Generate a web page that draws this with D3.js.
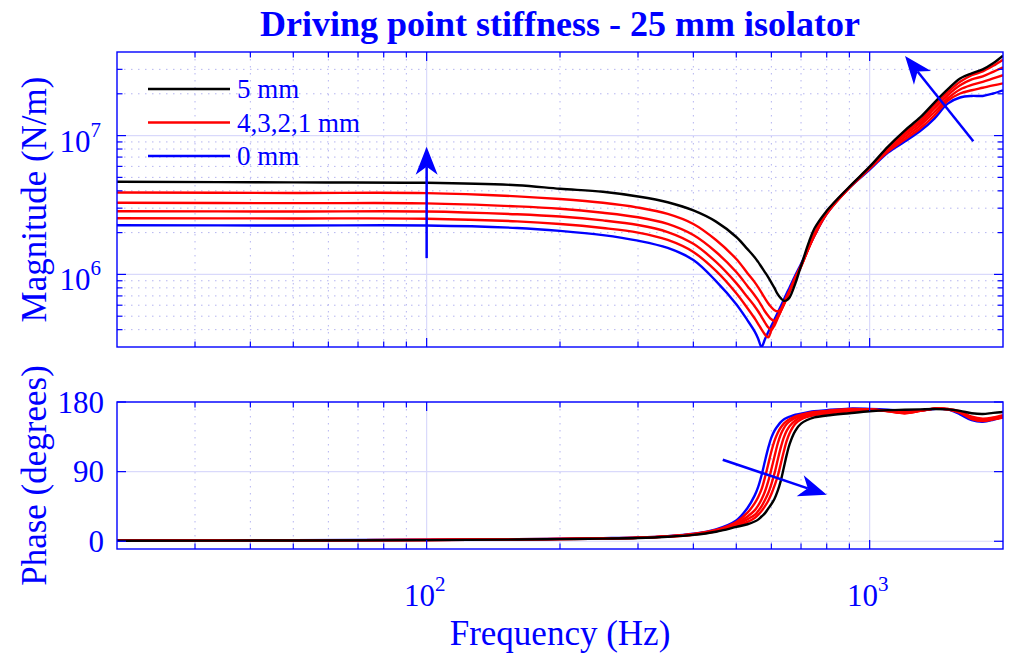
<!DOCTYPE html>
<html>
<head>
<meta charset="utf-8">
<script src="https://cdn.jsdelivr.net/npm/d3@7"></script>
<style>
  html, body { margin: 0; padding: 0; background: #ffffff; }
  svg { display: block; font-family: "Liberation Serif", "Times New Roman", Times, serif; }
</style>
</head>
<body>
<svg id="chart" width="1009" height="657"></svg>
<script>
// ---- data -------------------------------------------------------------
// frequency grid (Hz)
const freq = [20, 50, 100, 160, 200, 250, 300, 350, 400, 450,
              500, 530, 550, 560, 570, 580, 590, 600, 610, 620,
              630, 640, 650, 660, 680, 700, 750, 800, 900, 1000,
              1100, 1200, 1300, 1400, 1500, 1600, 1700, 1800, 1900, 2000];

// driving point stiffness magnitude (N/m) for each isolator setting
const mag0mm = [2.26e6, 2.25e6, 2.25e6, 2.16e6, 2.06e6, 1.92e6, 1.75e6, 1.55e6, 1.27e6, 8.95e5,
                6.10e5, 4.67e5, 3.89e5, 3.46e5, 3.00e5, 3.40e5, 3.83e5, 4.26e5, 4.75e5, 5.29e5,
                5.90e5, 6.57e5, 7.32e5, 8.09e5, 9.88e5, 1.19e6, 1.89e6, 2.73e6, 4.21e6, 5.68e6,
                7.54e6, 9.05e6, 1.078e7, 1.327e7, 1.70e7, 1.88e7, 1.93e7, 1.93e7, 2.01e7, 2.12e7];
const mag1mm = [2.54e6, 2.53e6, 2.52e6, 2.41e6, 2.31e6, 2.16e6, 2.00e6, 1.77e6, 1.45e6, 1.06e6,
                7.32e5, 5.71e5, 4.83e5, 4.41e5, 4.02e5, 3.70e5, 3.52e5, 3.96e5, 4.44e5, 4.95e5,
                5.52e5, 6.20e5, 6.97e5, 7.70e5, 9.56e5, 1.16e6, 1.89e6, 2.73e6, 4.21e6, 5.77e6,
                7.66e6, 9.36e6, 1.124e7, 1.395e7, 1.78e7, 2.01e7, 2.12e7, 2.21e7, 2.30e7, 2.38e7];
const mag2mm = [2.85e6, 2.84e6, 2.84e6, 2.71e6, 2.61e6, 2.45e6, 2.27e6, 2.02e6, 1.66e6, 1.23e6,
                8.65e5, 6.85e5, 5.90e5, 5.43e5, 4.95e5, 4.52e5, 4.16e5, 3.99e5, 4.30e5, 4.83e5,
                5.43e5, 6.10e5, 6.85e5, 7.64e5, 9.48e5, 1.15e6, 1.91e6, 2.75e6, 4.21e6, 5.82e6,
                7.86e6, 9.75e6, 1.181e7, 1.479e7, 1.85e7, 2.15e7, 2.32e7, 2.44e7, 2.58e7, 2.72e7];
const mag3mm = [3.28e6, 3.26e6, 3.25e6, 3.09e6, 2.97e6, 2.78e6, 2.58e6, 2.31e6, 1.92e6, 1.45e6,
                1.04e6, 8.23e5, 7.08e5, 6.52e5, 5.95e5, 5.43e5, 5.04e5, 4.75e5, 4.63e5, 4.95e5,
                5.43e5, 6.05e5, 6.80e5, 7.57e5, 9.40e5, 1.14e6, 1.92e6, 2.78e6, 4.24e6, 5.87e6,
                7.99e6, 1.017e7, 1.231e7, 1.567e7, 1.95e7, 2.30e7, 2.54e7, 2.67e7, 2.88e7, 3.10e7];
const mag4mm = [3.89e6, 3.86e6, 3.85e6, 3.65e6, 3.49e6, 3.28e6, 3.03e6, 2.73e6, 2.31e6, 1.77e6,
                1.29e6, 1.02e6, 8.80e5, 8.09e5, 7.39e5, 6.74e5, 6.20e5, 5.80e5, 5.52e5, 5.43e5,
                5.61e5, 6.05e5, 6.80e5, 7.57e5, 9.40e5, 1.14e6, 1.96e6, 2.82e6, 4.24e6, 5.92e6,
                8.19e6, 1.051e7, 1.284e7, 1.648e7, 2.05e7, 2.44e7, 2.72e7, 2.90e7, 3.18e7, 3.52e7];
const mag5mm = [4.65e6, 4.60e6, 4.57e6, 4.39e6, 4.14e6, 3.94e6, 3.64e6, 3.31e6, 2.89e6, 2.40e6,
                1.86e6, 1.52e6, 1.33e6, 1.23e6, 1.13e6, 1.04e6, 9.56e5, 8.72e5, 7.96e5, 7.20e5,
                6.74e5, 6.46e5, 6.52e5, 6.85e5, 8.65e5, 1.15e6, 2.13e6, 2.87e6, 4.28e6, 5.97e6,
                8.33e6, 1.087e7, 1.35e7, 1.73e7, 2.15e7, 2.58e7, 2.81e7, 3.00e7, 3.32e7, 3.76e7];

// phase (degrees)
const phase0mm = [0.9, 1.3, 1.9, 2.7, 3.2, 4.0, 4.9, 6.6, 9.7, 15.5,
                  27, 43, 59, 70, 85, 103, 120, 134, 143, 149,
                  154, 157.5, 159.5, 161, 163.5, 165, 168, 169.5, 171.5, 171,
                  170, 168.5, 169, 171, 170.5, 164, 156.5, 154.5, 157, 161];
const phase1mm = [0.8, 1.2, 1.8, 2.6, 3.1, 3.8, 4.7, 6.4, 9.4, 14.8,
                  25, 37, 49, 57, 67, 82, 99, 116, 130, 140,
                  147, 152, 155.5, 158, 161.5, 163.5, 167, 168.5, 171, 170.5,
                  168, 165.5, 168.5, 171.5, 170.5, 166, 158, 155.5, 157.5, 160];
const phase2mm = [0.8, 1.2, 1.7, 2.5, 3.0, 3.7, 4.6, 6.3, 9.1, 14.2,
                  23, 32, 40, 46, 54, 64, 77, 93, 110, 126,
                  138, 146, 151.5, 155, 159.5, 162, 166, 167.5, 170, 170.5,
                  168, 165.5, 168.5, 171.5, 170.5, 166.5, 158.5, 156, 158, 160.5];
const phase3mm = [0.7, 1.1, 1.7, 2.4, 2.9, 3.6, 4.5, 6.1, 8.8, 13.5,
                  21.5, 28.5, 34, 39, 45, 53, 62, 74, 88, 105,
                  121, 134, 143, 149, 156, 160, 165, 166.5, 169, 170.5,
                  168.5, 166, 168.5, 171.5, 171, 167, 159.5, 157, 158.5, 161.5];
const phase4mm = [0.7, 1.1, 1.6, 2.3, 2.8, 3.5, 4.4, 6.0, 8.5, 12.9,
                  20, 25, 30, 34, 39, 45, 52, 61, 72, 84,
                  100, 116, 130, 140, 152, 157.5, 163, 165, 168, 170,
                  169, 167, 169, 171.5, 171, 168, 161, 158.5, 160, 163];
const phase5mm = [0.6, 1.0, 1.5, 2.2, 2.7, 3.4, 4.2, 5.8, 8.2, 12.3,
                  18.5, 22, 25.5, 28, 32, 36, 42, 48, 55, 65,
                  78, 95, 112, 126, 143, 152, 160, 162.5, 165.5, 168,
                  169.5, 170, 170.5, 171, 170.5, 168.5, 165.5, 164.5, 166, 167];

const legendLabels = ["5 mm", "4,3,2,1 mm", "0 mm"];
const xTickExponents = [2, 3];        // 10^2, 10^3 Hz
const magTickExponents = [6, 7];      // 10^6, 10^7 N/m
const phaseTicks = [0, 90, 180];

// direction arrows: [frequency, value] pairs
const magArrows = [
  { from: [100, 1.31e6], to: [100, 8.3e6] },
  { from: [1714, 9.1e6], to: [1202, 3.745e7] }
];
const phaseArrows = [
  { from: [466, 105.4], to: [800, 60.2] }
];

// ---- layout & styles --------------------------------------------------
const BLUE = "#0000ff", RED = "#ff0000", BLACK = "#000000";
const GRID_MAJOR = "#d9d9fb", GRID_MINOR = "#b4b4f0";
const X0 = 117, X1 = 1003;
const magBox = { top: 52, bottom: 347 };
const phBox = { top: 402, bottom: 549 };
const TICK_MAJOR = 9, TICK_MINOR = 5.5;
const LINE_W = 2.4;

const svg = d3.select("#chart");
const x = d3.scaleLog().domain([20, 2000]).range([X0, X1]);
const yMag = d3.scaleLog().domain([3e5, 4e7]).range([magBox.bottom, magBox.top]);
const yPh = d3.scaleLinear().domain([-10, 180]).range([phBox.bottom, phBox.top]);

const isPow10 = v => Math.abs(Math.log10(v) - Math.round(Math.log10(v))) < 1e-9;
const xAll = x.ticks().filter(v => v > 20 && v < 2000);
const xMajor = xAll.filter(isPow10);
const xMinor = xAll.filter(v => !isPow10(v));
const magAll = yMag.ticks().filter(v => v > 3e5 && v < 4e7);
const magMajor = magAll.filter(isPow10);
const magMinor = magAll.filter(v => !isPow10(v));

const defs = svg.append("defs");
defs.append("clipPath").attr("id", "clipMag").append("rect")
  .attr("x", X0).attr("y", magBox.top).attr("width", X1 - X0).attr("height", magBox.bottom - magBox.top);
defs.append("clipPath").attr("id", "clipPh").append("rect")
  .attr("x", X0).attr("y", phBox.top).attr("width", X1 - X0).attr("height", phBox.bottom - phBox.top);

function drawGrid(box, yScale, yMajorVals, yMinorVals) {
  const g = svg.append("g");
  // minor (dotted)
  g.selectAll(".vmin").data(xMinor).join("line")
    .attr("x1", d => x(d)).attr("x2", d => x(d)).attr("y1", box.top).attr("y2", box.bottom)
    .attr("stroke", GRID_MINOR).attr("stroke-width", 1).attr("stroke-dasharray", "1.5,5.5");
  g.selectAll(".hmin").data(yMinorVals).join("line")
    .attr("x1", X0).attr("x2", X1).attr("y1", d => yScale(d)).attr("y2", d => yScale(d))
    .attr("stroke", GRID_MINOR).attr("stroke-width", 1).attr("stroke-dasharray", "1.5,5.5");
  // major (solid)
  g.selectAll(".vmaj").data(xMajor).join("line")
    .attr("x1", d => x(d)).attr("x2", d => x(d)).attr("y1", box.top).attr("y2", box.bottom)
    .attr("stroke", GRID_MAJOR).attr("stroke-width", 1.2);
  g.selectAll(".hmaj").data(yMajorVals).join("line")
    .attr("x1", X0).attr("x2", X1).attr("y1", d => yScale(d)).attr("y2", d => yScale(d))
    .attr("stroke", GRID_MAJOR).attr("stroke-width", 1.2);
}

function drawFrame(box, yScale, yMajorVals, yMinorVals) {
  const g = svg.append("g").attr("stroke", BLUE).attr("fill", "none");
  // x ticks on bottom and top edges, pointing inward
  [[xMajor, TICK_MAJOR], [xMinor, TICK_MINOR]].forEach(([vals, len]) => {
    vals.forEach(v => {
      g.append("line").attr("x1", x(v)).attr("x2", x(v))
        .attr("y1", box.bottom).attr("y2", box.bottom - len).attr("stroke-width", 1.2);
      g.append("line").attr("x1", x(v)).attr("x2", x(v))
        .attr("y1", box.top).attr("y2", box.top + len).attr("stroke-width", 1.2);
    });
  });
  // y ticks on left and right edges
  [[yMajorVals, TICK_MAJOR], [yMinorVals, TICK_MINOR]].forEach(([vals, len]) => {
    vals.forEach(v => {
      g.append("line").attr("x1", X0).attr("x2", X0 + len)
        .attr("y1", yScale(v)).attr("y2", yScale(v)).attr("stroke-width", 1.2);
      g.append("line").attr("x1", X1).attr("x2", X1 - len)
        .attr("y1", yScale(v)).attr("y2", yScale(v)).attr("stroke-width", 1.2);
    });
  });
  g.append("rect").attr("x", X0).attr("y", box.top)
    .attr("width", X1 - X0).attr("height", box.bottom - box.top)
    .attr("stroke-width", 1.4);
}

function drawArrow(g, x1, y1, x2, y2) {
  const ang = Math.atan2(y2 - y1, x2 - x1);
  const len = 28, half = 11, notch = 20;
  const ux = Math.cos(ang), uy = Math.sin(ang);
  const px = -uy, py = ux;
  const bx = x2 - ux * len, by = y2 - uy * len;
  const nx = x2 - ux * notch, ny = y2 - uy * notch;
  g.append("line").attr("x1", x1).attr("y1", y1).attr("x2", nx).attr("y2", ny)
    .attr("stroke", BLUE).attr("stroke-width", 2.5);
  g.append("path")
    .attr("d", `M${x2},${y2} L${bx + px * half},${by + py * half} L${nx},${ny} L${bx - px * half},${by - py * half} Z`)
    .attr("fill", BLUE);
}

// ---- magnitude panel --------------------------------------------------
drawGrid(magBox, yMag, magMajor, magMinor);

const seriesStyle = [
  { mag: mag0mm, phase: phase0mm, color: BLUE },
  { mag: mag1mm, phase: phase1mm, color: RED },
  { mag: mag2mm, phase: phase2mm, color: RED },
  { mag: mag3mm, phase: phase3mm, color: RED },
  { mag: mag4mm, phase: phase4mm, color: RED },
  { mag: mag5mm, phase: phase5mm, color: BLACK }
];

const smooth = d3.curveCatmullRom.alpha(0.5);
const magLine = d3.line().x((d, i) => x(freq[i])).y(d => yMag(d)).curve(smooth);
const phLine = d3.line().x((d, i) => x(freq[i])).y(d => yPh(d)).curve(smooth);

const magCurves = svg.append("g").attr("clip-path", "url(#clipMag)");
seriesStyle.forEach(s => {
  magCurves.append("path").attr("d", magLine(s.mag))
    .attr("fill", "none").attr("stroke", s.color).attr("stroke-width", LINE_W)
    .attr("stroke-linejoin", "round");
});

drawFrame(magBox, yMag, magMajor, magMinor);

// magnitude tick labels (powers of ten)
magTickExponents.forEach(e => {
  const t = svg.append("text")
    .attr("x", 101).attr("y", yMag(Math.pow(10, e)) + 16)
    .attr("text-anchor", "end").attr("fill", BLUE).attr("font-size", 31);
  t.append("tspan").text("10");
  t.append("tspan").attr("dy", -15).attr("font-size", 21).text(e);
});

// arrows on the magnitude panel
const magArrowG = svg.append("g");
magArrows.forEach(a => drawArrow(magArrowG, x(a.from[0]), yMag(a.from[1]), x(a.to[0]), yMag(a.to[1])));

// legend
const legendColors = [BLACK, RED, BLUE];
const legendY = [89, 122.5, 156];
const lg = svg.append("g");
legendLabels.forEach((lab, i) => {
  lg.append("line").attr("x1", 148).attr("x2", 230).attr("y1", legendY[i]).attr("y2", legendY[i])
    .attr("stroke", legendColors[i]).attr("stroke-width", LINE_W);
  lg.append("text").attr("x", 237).attr("y", legendY[i] + 9)
    .attr("fill", BLUE).attr("font-size", 27).text(lab);
});

// ---- phase panel ------------------------------------------------------
drawGrid(phBox, yPh, phaseTicks, []);

const phCurves = svg.append("g").attr("clip-path", "url(#clipPh)");
seriesStyle.forEach(s => {
  phCurves.append("path").attr("d", phLine(s.phase))
    .attr("fill", "none").attr("stroke", s.color).attr("stroke-width", LINE_W)
    .attr("stroke-linejoin", "round");
});

drawFrame(phBox, yPh, phaseTicks, []);

phaseTicks.forEach(v => {
  svg.append("text").attr("x", 104).attr("y", yPh(v) + 10.5)
    .attr("text-anchor", "end").attr("fill", BLUE).attr("font-size", 31).text(v);
});

const phArrowG = svg.append("g");
phaseArrows.forEach(a => drawArrow(phArrowG, x(a.from[0]), yPh(a.from[1]), x(a.to[0]), yPh(a.to[1])));

// frequency tick labels
xTickExponents.forEach(e => {
  const t = svg.append("text")
    .attr("x", x(Math.pow(10, e)) - 2).attr("y", 606)
    .attr("text-anchor", "middle").attr("fill", BLUE).attr("font-size", 31);
  t.append("tspan").text("10");
  t.append("tspan").attr("dy", -15).attr("font-size", 21).text(e);
});

// ---- titles -----------------------------------------------------------
svg.append("text").attr("x", (X0 + X1) / 2).attr("y", 36)
  .attr("text-anchor", "middle").attr("font-weight", "bold").attr("font-size", 36)
  .attr("fill", BLUE).text("Driving point stiffness - 25 mm isolator");

svg.append("text").attr("x", (X0 + X1) / 2).attr("y", 645)
  .attr("text-anchor", "middle").attr("font-size", 35)
  .attr("fill", BLUE).text("Frequency (Hz)");

svg.append("text")
  .attr("transform", `translate(46,${(magBox.top + magBox.bottom) / 2}) rotate(-90)`)
  .attr("text-anchor", "middle").attr("font-size", 35)
  .attr("fill", BLUE).text("Magnitude (N/m)");

svg.append("text")
  .attr("transform", `translate(46,${(phBox.top + phBox.bottom) / 2}) rotate(-90)`)
  .attr("text-anchor", "middle").attr("font-size", 35)
  .attr("fill", BLUE).text("Phase (degrees)");
</script>
</body>
</html>
